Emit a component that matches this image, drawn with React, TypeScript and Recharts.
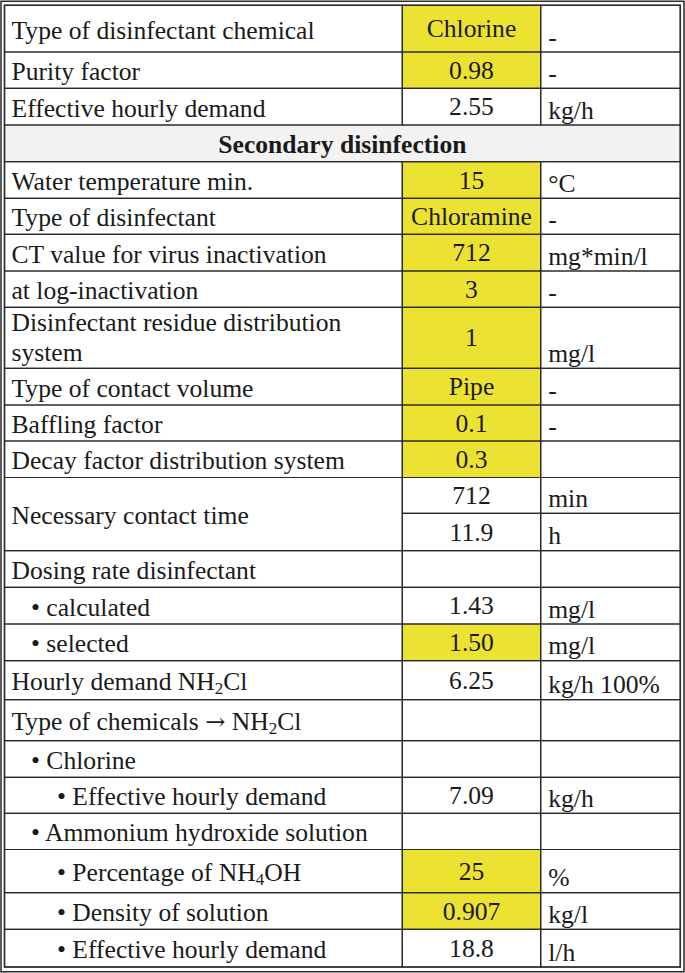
import React from "react";
import { ComposedChart, XAxis, YAxis, ReferenceArea } from "recharts";

// null label = merged with the row above
const labels: (string | null)[] = [
  "Type of disinfectant chemical",
  "Purity factor",
  "Effective hourly demand",
  "Secondary disinfection",
  "Water temperature min.",
  "Type of disinfectant",
  "CT value for virus inactivation",
  "at log-inactivation",
  "Disinfectant residue distribution\nsystem",
  "Type of contact volume",
  "Baffling factor",
  "Decay factor distribution system",
  "Necessary contact time",
  null,
  "Dosing rate disinfectant",
  "• calculated",
  "• selected",
  "Hourly demand NH_2Cl",
  "Type of chemicals → NH_2Cl",
  "• Chlorine",
  "• Effective hourly demand",
  "• Ammonium hydroxide solution",
  "• Percentage of NH_4OH",
  "• Density of solution",
  "• Effective hourly demand",
];
const levels = [0, 0, 0, 0, 0, 0, 0, 0, 0, 0, 0, 0, 0, 0, 0, 1, 1, 0, 0, 1, 2, 1, 2, 2, 2];
const values = [
  "Chlorine", "0.98", "2.55", "", "15", "Chloramine", "712", "3", "1", "Pipe", "0.1", "0.3",
  "712", "11.9", "", "1.43", "1.50", "6.25", "", "", "7.09", "", "25", "0.907", "18.8",
];
const units = [
  "-", "-", "kg/h", "", "°C", "-", "mg*min/l", "-", "mg/l", "-", "-", "",
  "min", "h", "", "mg/l", "mg/l", "kg/h 100%", "", "", "kg/h", "", "%", "kg/l", "l/h",
];
// yellow = input cells
const inputCell = [
  true, true, false, false, true, true, true, true, true, true, true, true,
  false, false, false, false, true, false, false, false, false, false, true, true, false,
];
const HEADER_ROW = 3;

// table layout (px units on the axes)
const rowHeights = [
  46.7, 36.3, 36.7, 36.7, 36.6, 36, 36.7, 36.3, 61, 36.7, 36, 36.5, 35.8, 37.4,
  36.6, 36.7, 36.7, 39, 41, 36.6, 36, 36.2, 43.2, 36.6, 37.7,
];
const W = 685;
const H = 973;
const TOP = 5.3;
const COLS = [4.5, 402.3, 540.7, 680.3];
const INDENT = [11.5, 31, 57];

const FONT = "'Liberation Serif', 'Times New Roman', serif";
const FS = 25.6;
const INK = "#1a1a1a";
const LINE = "#2a2a2a";
const YELLOW = "#ECE232";
const GRAY = "#F2F2F2";

const rowTops: number[] = [TOP];
rowHeights.forEach((h, i) => rowTops.push(rowTops[i] + h));

function richText(s: string) {
  const parts = s.split(/(_\d|→)/);
  let shifted = false;
  return parts.map((p, i) => {
    if (p.startsWith("_")) {
      shifted = true;
      return <tspan key={i} fontSize={17} dy={3.5}>{p.slice(1)}</tspan>;
    }
    if (p === "→") {
      return <tspan key={i} fontFamily="'DejaVu Serif'" fontSize={24}>{p}</tspan>;
    }
    const dy = shifted ? -3.5 : 0;
    shifted = false;
    return <tspan key={i} dy={dy}>{p}</tspan>;
  });
}

function CellText({ x, y, anchor, bold, children }: any) {
  return (
    <text
      x={x}
      y={y}
      textAnchor={anchor || "start"}
      fontFamily={FONT}
      fontSize={FS}
      fontWeight={bold ? "bold" : "normal"}
      fill={INK}
    >
      {children}
    </text>
  );
}

type Cell = {
  key: string;
  x1: number;
  x2: number;
  y1: number;
  y2: number;
  fill: string;
  kind: "label" | "value" | "unit" | "header";
  text: string;
  level: number;
};

const cells: Cell[] = [];
labels.forEach((lab, i) => {
  const y1 = rowTops[i];
  const y2 = rowTops[i + 1];
  if (i === HEADER_ROW) {
    cells.push({ key: `h${i}`, x1: COLS[0], x2: COLS[3], y1, y2, fill: GRAY, kind: "header", text: lab || "", level: 0 });
    return;
  }
  if (lab !== null) {
    let end = i + 1;
    while (end < labels.length && labels[end] === null) end++;
    cells.push({ key: `l${i}`, x1: COLS[0], x2: COLS[1], y1, y2: rowTops[end], fill: "#fff", kind: "label", text: lab, level: levels[i] });
  }
  cells.push({ key: `v${i}`, x1: COLS[1], x2: COLS[2], y1, y2, fill: inputCell[i] ? YELLOW : "#fff", kind: "value", text: values[i], level: 0 });
  cells.push({ key: `u${i}`, x1: COLS[2], x2: COLS[3], y1, y2, fill: "#fff", kind: "unit", text: units[i], level: 0 });
});

function cellContent(c: Cell) {
  return (props: any) => {
    const vb = props.viewBox || {};
    const x = vb.x ?? 0;
    const y = vb.y ?? 0;
    const w = vb.width ?? 0;
    const h = vb.height ?? 0;
    const bottom = y + h;
    const center = y + h / 2;
    if (!c.text) return null;
    if (c.kind === "value") {
      return <CellText x={x + w / 2} y={center + 8.5} anchor="middle">{c.text}</CellText>;
    }
    if (c.kind === "unit") {
      return <CellText x={x + 7.5} y={bottom - 6.5}>{c.text}</CellText>;
    }
    const lines = c.text.split("\n");
    const base = Math.min(center + 10, bottom - 7);
    if (c.kind === "header") {
      return <CellText x={x + w / 2} y={base} anchor="middle" bold>{c.text}</CellText>;
    }
    const last = lines.length > 1 ? bottom - 7 : base;
    return (
      <g>
        {lines.map((ln, k) => (
          <CellText key={k} x={x + INDENT[c.level] - COLS[0]} y={last - (lines.length - 1 - k) * 30}>
            {richText(ln)}
          </CellText>
        ))}
      </g>
    );
  };
}

export default function App() {
  return (
    <div style={{ position: "absolute", left: 0, top: 0, background: "#fff" }}>
      <ComposedChart width={W} height={H} data={labels.map((l, i) => ({ row: i }))} margin={{ top: 0, right: 0, bottom: 0, left: 0 }}>
        <XAxis type="number" dataKey="row" domain={[0, W]} hide allowDataOverflow />
        <YAxis type="number" domain={[0, H]} reversed hide allowDataOverflow />
        {cells.map((c) => (
          <ReferenceArea
            key={`f-${c.key}`}
            x1={c.x1}
            x2={c.x2}
            y1={c.y1}
            y2={c.y2}
            fill={c.fill}
            fillOpacity={1}
            stroke="none"
          />
        ))}
        {cells.map((c) => (
          <ReferenceArea
            key={`b-${c.key}`}
            x1={c.x1}
            x2={c.x2}
            y1={c.y1}
            y2={c.y2}
            fill="none"
            stroke={LINE}
            strokeWidth={1.2}
            label={cellContent(c)}
          />
        ))}
        <ReferenceArea x1={1} x2={684} y1={1.3} y2={971.7} fill="none" stroke={LINE} strokeWidth={1.5} />
        <ReferenceArea x1={COLS[0]} x2={COLS[3]} y1={TOP} y2={rowTops[rowTops.length - 1]} fill="none" stroke={LINE} strokeWidth={1.5} />
      </ComposedChart>
    </div>
  );
}
